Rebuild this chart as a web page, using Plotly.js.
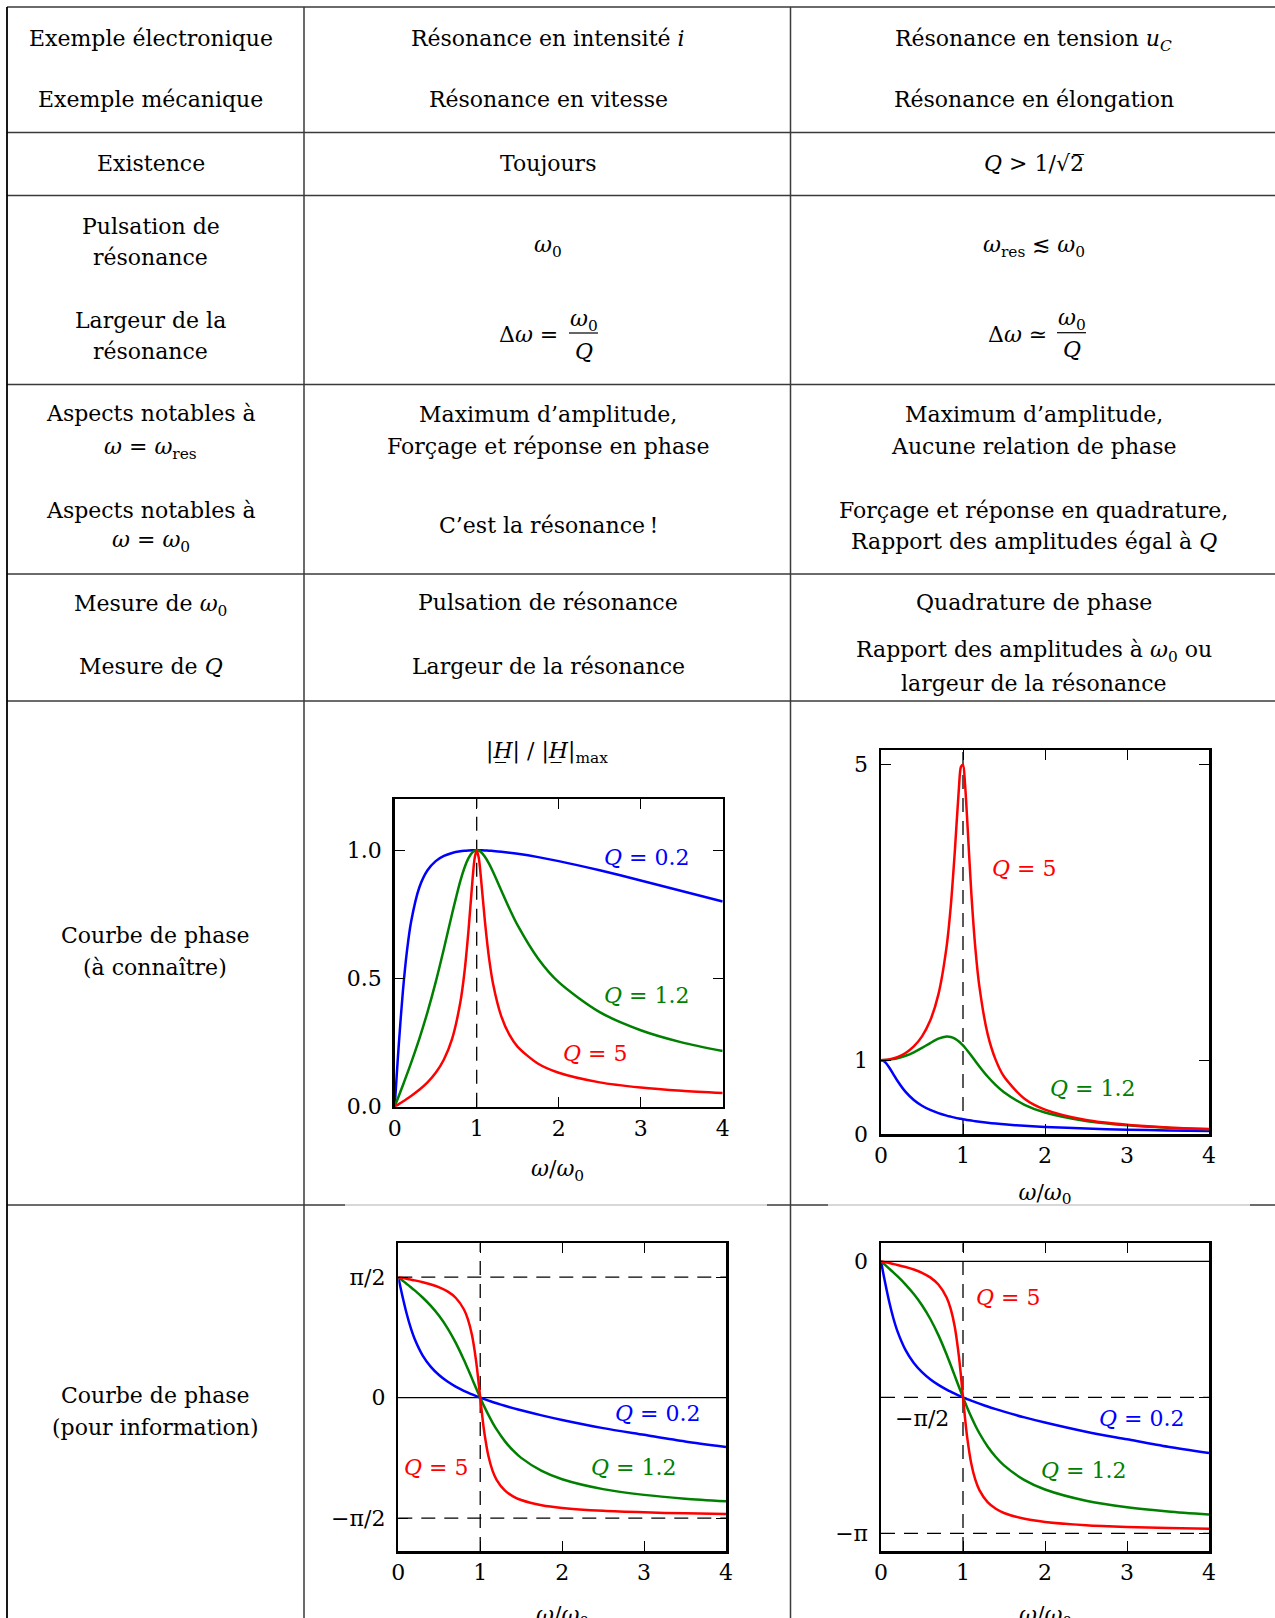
<!DOCTYPE html>
<html>
<head>
<meta charset="utf-8">
<script src="https://cdn.plot.ly/plotly-3.0.1.min.js"></script>
<style>html,body{margin:0;padding:0;background:#fff;}#chart{width:1275px;height:1618px;}</style>
</head>
<body>
<div id="chart"></div>
<script>
// ---------- data ----------
const omega = [0, 0.02, 0.05, 0.1, 0.15, 0.2, 0.3, 0.4, 0.5, 0.6, 0.7, 0.8, 0.85, 0.9, 0.95, 0.975, 1.0, 1.025, 1.05, 1.1, 1.15, 1.2, 1.3, 1.4, 1.5, 1.75, 2.0, 2.5, 3.0, 3.5, 4.0];

const ampI_Q02 = [0, 0.0995, 0.2431, 0.4508, 0.6087, 0.7214, 0.8550, 0.9220, 0.9578, 0.9780, 0.9896, 0.9960, 0.9979, 0.9991, 0.9998, 1.0000, 1.0, 1.0000, 0.9998, 0.9993, 0.9984, 0.9973, 0.9944, 0.9907, 0.9864, 0.9733, 0.9578, 0.9220, 0.8824, 0.8412, 0.8000];
const ampI_Q12 = [0, 0.0167, 0.0417, 0.0839, 0.1268, 0.1711, 0.2649, 0.3689, 0.4856, 0.6157, 0.7528, 0.8799, 0.9311, 0.9694, 0.9925, 0.9982, 1.0, 0.9983, 0.9932, 0.9747, 0.9478, 0.9153, 0.8435, 0.7722, 0.7071, 0.5773, 0.4856, 0.3689, 0.2983, 0.2510, 0.2169];
const ampI_Q5  = [0, 0.0040, 0.0100, 0.0202, 0.0307, 0.0416, 0.0658, 0.0948, 0.1322, 0.1843, 0.2647, 0.4061, 0.5224, 0.6877, 0.8897, 0.9694, 1.0, 0.9708, 0.8987, 0.7234, 0.5806, 0.4789, 0.3526, 0.2800, 0.2334, 0.1673, 0.1322, 0.0948, 0.0748, 0.0621, 0.0533];

const ampU_Q02 = [1.0, 0.9954, 0.9724, 0.9016, 0.8116, 0.7214, 0.5700, 0.4610, 0.3831, 0.3260, 0.2827, 0.2490, 0.2348, 0.2220, 0.2105, 0.2051, 0.2000, 0.1951, 0.1904, 0.1817, 0.1736, 0.1662, 0.1530, 0.1415, 0.1315, 0.1112, 0.0958, 0.0738, 0.0588, 0.0481, 0.0400];
const ampU_Q12 = [1.0, 1.0003, 1.0016, 1.0065, 1.0148, 1.0263, 1.0597, 1.1065, 1.1655, 1.2313, 1.2906, 1.3199, 1.3145, 1.2925, 1.2537, 1.2285, 1.2000, 1.1687, 1.1351, 1.0634, 0.9890, 0.9153, 0.7786, 0.6619, 0.5657, 0.3959, 0.2914, 0.1771, 0.1193, 0.0860, 0.0651];
const ampU_Q5  = [1.0, 1.0004, 1.0025, 1.0099, 1.0225, 1.0408, 1.0965, 1.1851, 1.3216, 1.5357, 1.8908, 2.5384, 3.0728, 3.8208, 4.6826, 4.9713, 5.0000, 4.7358, 4.2794, 3.2880, 2.5245, 1.9952, 1.3562, 1.0000, 0.7779, 0.4780, 0.3304, 0.1896, 0.1247, 0.0887, 0.0666];

const phaseI_Q02 = [1.5708, 1.4711, 1.3252, 1.1035, 0.9162, 0.7650, 0.5453, 0.3976, 0.2915, 0.2102, 0.1447, 0.0898, 0.0652, 0.0422, 0.0205, 0.0101, 0, -0.0099, -0.0195, -0.0382, -0.0560, -0.0732, -0.1058, -0.1363, -0.1652, -0.2315, -0.2915, -0.3976, -0.4848, -0.5713, -0.6435];
const phaseI_Q12 = [1.5708, 1.5541, 1.5291, 1.4868, 1.4436, 1.3989, 1.3027, 1.1930, 1.0637, 0.9076, 0.7184, 0.4951, 0.3734, 0.2481, 0.1225, 0.0607, 0, -0.0592, -0.1166, -0.2252, -0.3246, -0.4145, -0.5671, -0.6885, -0.7854, -0.9553, -1.0637, -1.1930, -1.2679, -1.3171, -1.3521];
const phaseI_Q5  = [1.5708, 1.5668, 1.5608, 1.5506, 1.5401, 1.5292, 1.5050, 1.4758, 1.4382, 1.3854, 1.3029, 1.1526, 1.0212, 0.8124, 0.4741, 0.2480, 0, -0.2421, -0.4541, -0.7621, -0.9513, -1.0714, -1.2104, -1.2870, -1.3353, -1.4027, -1.4382, -1.4758, -1.4959, -1.5087, -1.5175];

const phaseU_Q02 = [0, -0.0997, -0.2456, -0.4673, -0.6546, -0.8058, -1.0255, -1.1732, -1.2793, -1.3606, -1.4261, -1.4810, -1.5056, -1.5286, -1.5503, -1.5607, -1.5708, -1.5807, -1.5903, -1.6090, -1.6268, -1.6440, -1.6766, -1.7071, -1.7360, -1.8023, -1.8623, -1.9684, -2.0556, -2.1421, -2.2143];
const phaseU_Q12 = [0, -0.0167, -0.0417, -0.0840, -0.1272, -0.1719, -0.2681, -0.3778, -0.5071, -0.6632, -0.8524, -1.0757, -1.1974, -1.3227, -1.4483, -1.5101, -1.5708, -1.6300, -1.6874, -1.7960, -1.8954, -1.9853, -2.1379, -2.2593, -2.3562, -2.5261, -2.6345, -2.7638, -2.8387, -2.8879, -2.9229];
const phaseU_Q5  = [0, -0.0040, -0.0100, -0.0202, -0.0307, -0.0416, -0.0658, -0.0950, -0.1326, -0.1854, -0.2679, -0.4182, -0.5496, -0.7584, -1.0967, -1.3228, -1.5708, -1.8129, -2.0249, -2.3329, -2.5221, -2.6422, -2.7812, -2.8578, -2.9061, -2.9735, -3.0090, -3.0466, -3.0667, -3.0795, -3.0883];

const qLabels = ['<i>Q</i> = 0.2', '<i>Q</i> = 1.2', '<i>Q</i> = 5'];
const xTickVals = [0, 1, 2, 3, 4];
const phaseITickVals = [-Math.PI/2, 0, Math.PI/2];
const phaseITickText = ['\u2212\u03c0/2', '0', '\u03c0/2'];
const phaseUTickVals = [-Math.PI, -Math.PI/2, 0];
const phaseUTickText = ['\u2212\u03c0', '', '0'];
const ampUTickVals = [0, 1, 5];

// ---------- helpers ----------
const W = 1275, H = 1618;
const px = v => v / W;
const py = v => 1 - v / H;
const FONT = 'DejaVu Serif';
const BLUE = '#0000ff', GREEN = '#008000', RED = '#ff0000';

function curve(y, color, xa, ya) {
  return {type: 'scatter', mode: 'lines', x: omega, y: y, xaxis: xa, yaxis: ya,
    line: {color: color, width: 2.5, shape: 'spline', smoothing: 0.8}, hoverinfo: 'skip'};
}

const traces = [
  curve(ampI_Q02, BLUE, 'x', 'y'), curve(ampI_Q12, GREEN, 'x', 'y'), curve(ampI_Q5, RED, 'x', 'y'),
  curve(ampU_Q02, BLUE, 'x2', 'y2'), curve(ampU_Q12, GREEN, 'x2', 'y2'), curve(ampU_Q5, RED, 'x2', 'y2'),
  curve(phaseI_Q02, BLUE, 'x3', 'y3'), curve(phaseI_Q12, GREEN, 'x3', 'y3'), curve(phaseI_Q5, RED, 'x3', 'y3'),
  curve(phaseU_Q02, BLUE, 'x4', 'y4'), curve(phaseU_Q12, GREEN, 'x4', 'y4'), curve(phaseU_Q5, RED, 'x4', 'y4')
];

// axis title of the upper-right plot, clipped by the table rule below it
const clipBox = {x0: 790.5, x1: 1275, y0: 701, y1: 1205};
traces.push({type: 'scatter', mode: 'text', xaxis: 'x5', yaxis: 'y5',
  x: [(1045 - clipBox.x0) / (clipBox.x1 - clipBox.x0)],
  y: [(clipBox.y1 - 1194) / (clipBox.y1 - clipBox.y0)],
  text: ['<i>\u03c9</i>/<i>\u03c9</i><sub>0</sub>'], textposition: 'middle center',
  textfont: {family: FONT, size: 22, color: '#000'}, cliponaxis: true, hoverinfo: 'skip'});

const baseAxis = {
  showgrid: false, zeroline: false, showline: true, linewidth: 2.5, linecolor: '#000',
  mirror: 'allticks', ticks: 'inside', ticklen: 10, tickwidth: 1, tickcolor: '#000',
  tickfont: {family: FONT, size: 22, color: '#000'}, fixedrange: true
};
function xa(d0, d1, anchor) {
  return Object.assign({}, baseAxis, {domain: [px(d0), px(d1)], range: [0, 4], anchor: anchor,
    tickmode: 'array', tickvals: xTickVals, ticktext: xTickVals.map(String), ticklabelstandoff: 0});
}
function ya(top, bottom, anchor, extra) {
  return Object.assign({}, baseAxis, {domain: [py(bottom), py(top)], anchor: anchor, ticklabelstandoff: 6}, extra);
}

// ---------- table rules ----------
const rule = {color: '#3a3a3a', width: 1.5};
const shapes = [];
function hline(y, x0, x1, line) {
  shapes.push({type: 'line', xref: 'paper', yref: 'paper', x0: px(x0), x1: px(x1), y0: py(y), y1: py(y), line: line || rule, layer: 'above'});
}
function vline(x, y0, y1, line) {
  shapes.push({type: 'line', xref: 'paper', yref: 'paper', x0: px(x), x1: px(x), y0: py(y0), y1: py(y1), line: line || rule, layer: 'above'});
}
[7, 132.5, 195.5, 384.5, 574, 701].forEach(y => hline(y, 7, 1275));
hline(1205, 7, 345); hline(1205, 345, 767, {color: '#b0b0b0', width: 1});
hline(1205, 767, 828); hline(1205, 828, 1250, {color: '#b0b0b0', width: 1});
hline(1205, 1250, 1275);
vline(7, 7, 1618, {color: '#000', width: 1.8});
vline(304, 7, 1618); vline(790.5, 7, 1618);

// ---------- reference lines inside the plots ----------
const dashLine = {color: '#000', width: 1.3, dash: '14px,9px'};
const solidLine = {color: '#000', width: 1.3};
function vref(xaName, yaName, x) {
  shapes.push({type: 'line', xref: xaName, yref: yaName + ' domain', x0: x, x1: x, y0: 0, y1: 1, line: dashLine, layer: 'below'});
}
function href(xaName, yaName, y, line) {
  shapes.push({type: 'line', xref: xaName + ' domain', yref: yaName, x0: 0, x1: 1, y0: y, y1: y, line: line, layer: 'below'});
}
vref('x', 'y', 1); vref('x2', 'y2', 1); vref('x3', 'y3', 1); vref('x4', 'y4', 1);
href('x3', 'y3', Math.PI/2, dashLine); href('x3', 'y3', -Math.PI/2, dashLine); href('x3', 'y3', 0, solidLine);
href('x4', 'y4', 0, solidLine); href('x4', 'y4', -Math.PI/2, dashLine); href('x4', 'y4', -Math.PI, dashLine);

// fraction bars
shapes.push({type: 'line', xref: 'paper', yref: 'paper', x0: px(569), x1: px(598), y0: py(333), y1: py(333), line: {color: '#000', width: 1.2}});
shapes.push({type: 'line', xref: 'paper', yref: 'paper', x0: px(1057), x1: px(1086), y0: py(332.7), y1: py(332.7), line: {color: '#000', width: 1.2}});

// ---------- texts ----------
const annotations = [];
function T(text, x, y, o) {
  o = o || {};
  annotations.push({text: text, x: px(x), y: py(y), xref: 'paper', yref: 'paper', showarrow: false,
    xanchor: o.xanchor || 'center', yanchor: 'middle',
    font: {family: FONT, size: o.size || 22, color: o.color || '#000'}});
}
const w = '<i>\u03c9</i>';
const C1 = 150.5, C2 = 548, C3 = 1033.5;
T('Exemple électronique', C1, 38); T('Exemple mécanique', C1, 100);
T('Résonance en intensité <i>i</i>', C2, 38); T('Résonance en vitesse', C2, 100);
T('Résonance en tension <i>u</i><sub><i>C</i></sub>', C3, 40.5); T('Résonance en élongation', C3, 100);
T('Existence', C1, 163); T('Toujours', C2, 163); T('<i>Q</i> > 1/\u221a2\u0305', C3, 163);
T('Pulsation de', C1, 226.5); T('résonance', C1, 258);
T('Largeur de la', C1, 320.5); T('résonance', C1, 351.5);
T(w + '<sub>0</sub>', C2, 246.5);
T(w + '<sub>res</sub> \u2272 ' + w + '<sub>0</sub>', C3, 246);
T('\u0394' + w + ' =', 560, 334, {xanchor: 'right'});
T(w + '<sub>0</sub>', 583.5, 320); T('<i>Q</i>', 583.5, 351);
T('\u0394' + w + ' \u2243', 1049, 334, {xanchor: 'right'});
T(w + '<sub>0</sub>', 1071.5, 319.5); T('<i>Q</i>', 1071.5, 349.5);
T('Aspects notables à', C1, 413); T(w + ' = ' + w + '<sub>res</sub>', C1, 448);
T('Aspects notables à', C1, 510); T(w + ' = ' + w + '<sub>0</sub>', C1, 541);
T('Maximum d\u2019amplitude,', C2, 415); T('Forçage et réponse en phase', C2, 446.5);
T('C\u2019est la résonance\u2009!', C2, 525);
T('Maximum d\u2019amplitude,', C3, 415); T('Aucune relation de phase', C3, 446.5);
T('Forçage et réponse en quadrature,', C3, 510); T('Rapport des amplitudes égal à <i>Q</i>', C3, 541.5);
T('Mesure de ' + w + '<sub>0</sub>', C1, 605); T('Mesure de <i>Q</i>', C1, 667);
T('Pulsation de résonance', C2, 603); T('Largeur de la résonance', C2, 667);
T('Quadrature de phase', C3, 603); T('Rapport des amplitudes à ' + w + '<sub>0</sub> ou', C3, 651.5);
T('largeur de la résonance', C3, 683);
T('Courbe de phase', 155, 935.5); T('(à connaître)', 155, 967.5);
T('Courbe de phase', 155, 1395.5); T('(pour information)', 155, 1427.5);

// plot titles / axis titles
T('|<i>H\u0332</i>| / |<i>H\u0332</i>|<sub>max</sub>', 547, 752);
T(w + '/' + w + '<sub>0</sub>', 557, 1170);
T(w + '/' + w + '<sub>0</sub>', 562, 1616);
T(w + '/' + w + '<sub>0</sub>', 1045, 1616);

// curve labels
T(qLabels[0], 646, 857, {color: BLUE}); T(qLabels[1], 646, 995, {color: GREEN}); T(qLabels[2], 594.5, 1053, {color: RED});
T(qLabels[2], 1023.5, 868, {color: RED}); T(qLabels[1], 1092, 1088, {color: GREEN});
T(qLabels[0], 657.5, 1413, {color: BLUE}); T(qLabels[1], 633, 1467, {color: GREEN}); T(qLabels[2], 436, 1467, {color: RED});
T(qLabels[2], 1007.5, 1297, {color: RED}); T(qLabels[0], 1141, 1418, {color: BLUE}); T(qLabels[1], 1083, 1470, {color: GREEN});
T('\u2212\u03c0/2', 922, 1418);

const layout = {
  width: W, height: H, margin: {l: 0, r: 0, t: 0, b: 0},
  paper_bgcolor: '#fff', plot_bgcolor: 'rgba(0,0,0,0)', showlegend: false,
  font: {family: FONT, color: '#000'},
  xaxis: xa(394.7, 722.7, 'y'),
  yaxis: ya(799, 1106.7, 'x', {range: [0, 1.2], tickmode: 'array', tickvals: [0, 0.5, 1.0], ticktext: ['0.0', '0.5', '1.0']}),
  xaxis2: xa(881, 1209, 'y2'),
  yaxis2: ya(750, 1134, 'x2', {range: [0, 5.2], tickmode: 'array', tickvals: ampUTickVals, ticktext: ampUTickVals.map(String)}),
  xaxis3: xa(398.3, 726, 'y3'),
  yaxis3: ya(1243.3, 1551, 'x3', {range: [-2.0, 2.013], tickmode: 'array', tickvals: phaseITickVals, ticktext: phaseITickText}),
  xaxis4: xa(881, 1209, 'y4'),
  yaxis4: ya(1243.3, 1551, 'x4', {range: [-3.345, 0.208], tickmode: 'array', tickvals: phaseUTickVals, ticktext: phaseUTickText}),
  xaxis5: {domain: [px(clipBox.x0), px(clipBox.x1)], range: [0, 1], visible: false, anchor: 'y5', fixedrange: true},
  yaxis5: {domain: [py(clipBox.y1), py(clipBox.y0)], range: [0, 1], visible: false, anchor: 'x5', fixedrange: true},
  shapes: shapes,
  annotations: annotations
};

Plotly.newPlot('chart', traces, layout, {displayModeBar: false, staticPlot: true});
</script>
</body>
</html>
